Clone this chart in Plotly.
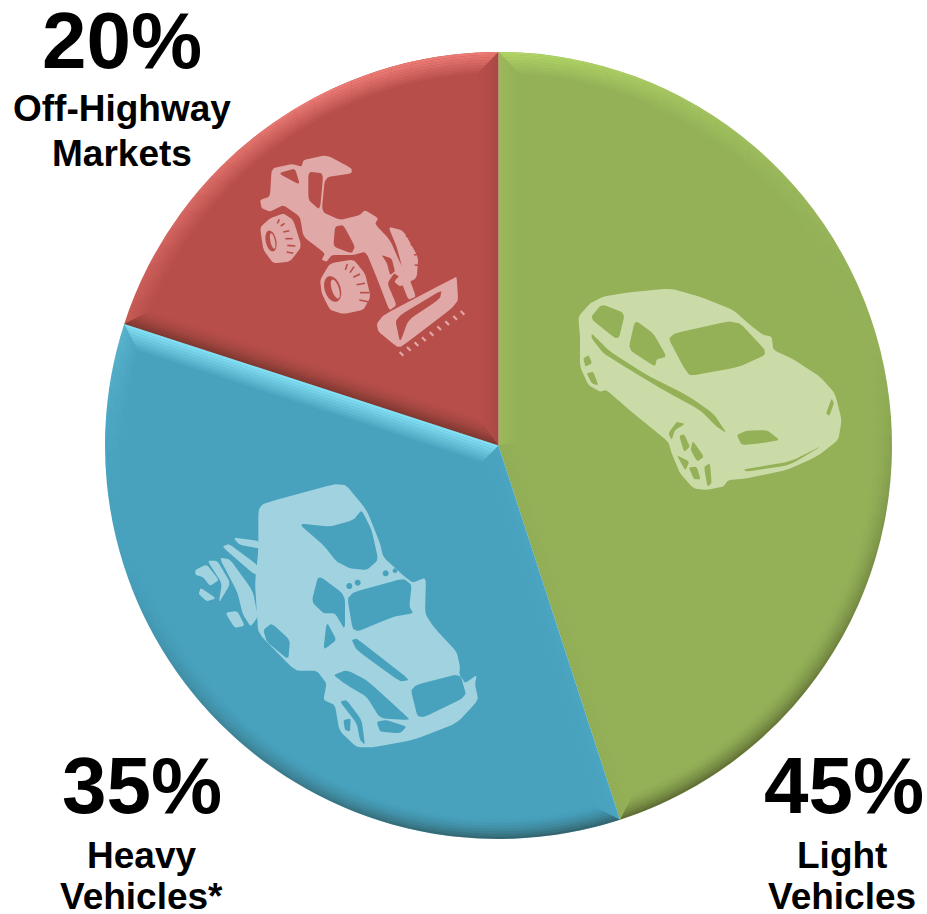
import math
import plotly.graph_objects as go

W, H = 927, 914
CX, CY, R = 498.5, 445.5, 393.5

segments = ["Light Vehicles", "Heavy Vehicles*", "Off-Highway Markets"]
shares = [45, 35, 20]
slice_colors = ["#94B158", "#48A2BE", "#B74E4A"]
slice_lights = ["178,214,102", "140,232,250", "235,122,116"]
icon_colors = ["#CBDBA8", "#A1D2E0", "#E0A8A6"]
share_labels = ["45%", "35%", "20%"]
name_lines = [["Light", "Vehicles"], ["Heavy", "Vehicles*"], ["Off-Highway", "Markets"]]


def px(x, y):
    return f"{x / W:.5f},{1 - y / H:.5f}"


def poly(points, ox=0.0, oy=0.0, scale=1.0):
    mapped = [px(ox + p[0] / scale, oy + p[1] / scale) for p in points]
    return "M" + " L".join(mapped) + " Z"


def ellipse(cx, cy, rx, ry, rot=0.0, n=28):
    c, s = math.cos(math.radians(rot)), math.sin(math.radians(rot))
    pts = []
    for i in range(n):
        a = 2 * math.pi * i / n
        x, y = rx * math.cos(a), ry * math.sin(a)
        pts.append((cx + x * c - y * s, cy + x * s + y * c))
    return pts


def smooth(points, rounds=2, cut=0.12):
    """Light corner cutting, so the silhouettes keep their shape but lose hard facets."""
    for _ in range(rounds):
        out = []
        for i, p in enumerate(points):
            q = points[(i + 1) % len(points)]
            out.append(((1 - cut) * p[0] + cut * q[0], (1 - cut) * p[1] + cut * q[1]))
            out.append((cut * p[0] + (1 - cut) * q[0], cut * p[1] + (1 - cut) * q[1]))
        points = out
    return points


def icon_shape(parts, ox, oy, color):
    path = " ".join(poly(smooth(p), ox, oy, 3.0) for p in parts)
    return dict(type="path", xref="paper", yref="paper", path=path,
                fillcolor=color, line=dict(width=0), layer="above")


def notch_shapes(strokes, ox, oy, color, width=1.6):
    out = []
    for (x0, y0), (x1, y1) in strokes:
        path = "M" + px(ox + x0 / 3, oy + y0 / 3) + " L" + px(ox + x1 / 3, oy + y1 / 3)
        out.append(dict(type="path", xref="paper", yref="paper", path=path,
                        line=dict(color=color, width=width), layer="above"))
    return out


# Car silhouette; the later sub-paths punch windows and trim through the body.
car = [
    [(55, 140), (90, 100), (130, 80), (200, 68), (330, 55), (420, 80), (520, 120), (570, 165), (610, 195),
     (635, 200), (640, 240), (700, 268), (780, 320), (825, 370), (845, 450), (835, 510), (770, 560), (680, 600),
     (560, 625), (505, 630), (490, 650), (440, 660), (400, 655), (360, 610), (335, 550), (325, 515), (220, 430),
     (140, 360), (120, 365), (85, 345), (60, 290), (60, 200)],
    [(90, 145), (125, 102), (195, 130), (175, 212)],
    [(225, 150), (280, 190), (320, 260), (290, 268), (285, 290), (205, 238)],
    [(320, 195), (530, 148), (625, 250), (540, 290), (390, 318), (370, 290)],
    [(95, 190), (150, 245), (260, 315), (380, 375), (460, 430), (500, 490), (470, 470), (420, 420), (310, 360),
     (210, 300), (130, 250), (95, 205)],
    [(815, 385), (822, 400), (808, 438), (798, 430)],
    [(530, 495), (560, 482), (620, 480), (660, 510), (600, 520), (545, 525)],
    [(550, 598), (690, 575), (790, 525), (690, 585), (560, 605)],
    [(325, 490), (350, 455), (375, 462), (345, 480), (335, 510)],
    [(358, 498), (372, 492), (390, 530), (372, 546)],
    [(398, 512), (432, 560), (412, 575), (392, 540)],
    [(350, 555), (388, 575), (376, 602)],
    [(386, 592), (410, 590), (422, 628), (402, 628)],
    [(432, 590), (450, 580), (455, 640), (442, 650)],
    [(70, 265), (86, 255), (96, 280), (76, 290)],
    [(80, 310), (100, 305), (115, 346), (96, 341)],
]

# Truck cab with hood and wings.
truck = [
    [(235, 120), (250, 100), (490, 35), (560, 120), (600, 220), (610, 262), (672, 318), (698, 338), (738, 322),
     (735, 430), (760, 470), (830, 545), (840, 590), (838, 612), (855, 640), (890, 615), (885, 642), (895, 690),
     (830, 760), (700, 810), (580, 832), (530, 832), (478, 782), (465, 705), (430, 690), (440, 640), (410, 602),
     (345, 602), (235, 490), (230, 420), (225, 340), (235, 240)],
    [(355, 160), (450, 170), (520, 150), (545, 120), (575, 180), (595, 270), (560, 300), (510, 295), (470, 275),
     (430, 225)],
    [(415, 315), (495, 375), (495, 480), (465, 430), (430, 430), (395, 395)],
    [(440, 455), (470, 510), (430, 540)],
    [(250, 480), (275, 460), (330, 510), (325, 570), (260, 515)],
    [(500, 372), (670, 325), (695, 345), (688, 410), (700, 430), (640, 440), (520, 490)],
    [(515, 510), (530, 505), (690, 630), (660, 635), (530, 540)],
    [(690, 650), (840, 610), (860, 680), (715, 750)],
    [(460, 615), (500, 600), (560, 630), (670, 730), (690, 750), (600, 745), (560, 680), (500, 645)],
    [(590, 755), (620, 750), (680, 770), (660, 790), (600, 785)],
    ellipse(508, 348, 9, 9), ellipse(533, 338, 9, 9), ellipse(617, 310, 9, 9), ellipse(645, 302, 7, 7),
    [(480, 695), (500, 690), (545, 750), (555, 825), (540, 810), (530, 760)],
    [(490, 750), (512, 745), (510, 785), (495, 780)],
]
# Rear axle fragments sit behind the cab as separate islands.
truck_axles = [
    [(160, 203), (238, 213), (238, 236), (178, 224)],
    [(126, 230), (148, 222), (236, 288), (228, 318)],
    [(118, 263), (150, 268), (218, 362), (234, 440), (212, 470), (188, 432), (172, 366)],
    [(82, 272), (112, 272), (152, 340), (116, 400), (126, 340)],
    [(46, 300), (80, 283), (117, 330), (90, 348), (70, 322), (46, 314)],
    [(62, 353), (108, 385), (80, 394), (56, 372)],
    [(136, 428), (172, 423), (194, 467), (164, 474)],
]

# Wheel loader: cab and lift arm, then each tyre, then the bucket.
loader_body = [
    [(95, 85), (155, 72), (185, 80), (190, 60), (260, 45), (335, 85), (335, 100), (255, 112), (245, 215), (300, 240),
     (358, 226), (375, 210), (415, 235), (405, 252), (450, 300), (480, 368), (505, 408), (528, 470), (505, 480),
     (478, 410), (462, 400), (442, 430), (470, 495), (448, 512), (415, 425), (378, 335), (340, 345), (275, 345),
     (260, 365), (245, 360), (255, 340), (190, 290), (180, 230), (130, 195), (90, 215), (65, 205), (60, 180), (90, 170)],
    [(115, 100), (165, 85), (180, 135)],
    [(205, 95), (250, 100), (240, 210), (205, 180)],
    [(285, 260), (310, 255), (345, 320), (335, 340), (280, 320)],
    [(425, 345), (455, 355), (465, 395), (450, 405), (441, 370)],
]
loader_rear_tyre = [[(60, 262), (90, 235), (130, 220), (160, 240), (185, 320), (150, 365), (100, 370), (70, 330)],
                    ellipse(93, 303, 16, 32, -12, 20), ellipse(98, 303, 7, 24, -12, 14)]
loader_front_tyre = [[(240, 420), (270, 370), (340, 358), (375, 400), (392, 470), (370, 510), (310, 522), (270, 510),
                      (245, 460)],
                     ellipse(278, 447, 24, 40, -18, 20), ellipse(286, 447, 11, 30, -18, 14)]
loader_far_tyre = [[(445, 260), (490, 272), (535, 352), (530, 415), (480, 440), (462, 425), (490, 395), (470, 320)]]
loader_bucket = [
    [(410, 552), (430, 525), (640, 415), (650, 410), (655, 490), (485, 620), (470, 620), (415, 575)],
    [(465, 535), (605, 450), (600, 476), (505, 540), (480, 608)],
]
loader_teeth = [(485, 642), (507, 627), (530, 613), (552, 598), (575, 582), (598, 565), (622, 550), (646, 534), (668, 519)]
rear_tread = [((118, 238), (112, 250)), ((134, 250), (122, 258)), ((148, 272), (130, 276)), ((158, 296), (136, 296)),
              ((166, 318), (142, 316)), ((160, 340), (140, 336))]
front_tread = [((322, 372), (316, 390)), ((342, 380), (330, 398)), ((360, 402), (340, 412)), ((375, 430), (350, 434)),
               ((388, 458), (360, 458)), ((384, 485), (358, 480))]
far_tread = [((498, 290), (508, 284)), ((512, 315), (525, 310)), ((522, 345), (538, 342)), ((524, 375), (538, 376))]

shapes = []


def tint(idx, nx, ny, strip, strips, power):
    """Colour of a bevel strip on wedge idx whose outward normal is (nx, ny) in page pixels."""
    d = nx * -0.25 + ny * -0.97
    fade = 1 - strip / strips
    if d > 0:
        return f"rgba({slice_lights[idx]},{min(1.0, 1.05 * d ** power * fade):.3f})"
    return f"rgba(25,20,5,{0.42 * abs(d) ** 1.2 * fade ** 1.8:.3f})"


def add_quad(pts, color):
    shapes.append(dict(type="path", xref="paper", yref="paper", path=poly(pts), fillcolor=color,
                       line=dict(width=0), layer="above"))


def point(angle, radius):
    return CX + radius * math.sin(angle), CY - radius * math.cos(angle)


# Soft bevel along each wedge: strips fade inward from the arc and both cut edges.
STRIPS, STEP = 8, 2.6
start = 0.0
total = sum(shares)
for idx, share in enumerate(shares):
    a0 = start
    a1 = start + 2 * math.pi * share / total
    half = (a1 - a0) / 2
    for k in range(STRIPS):
        o0, o1 = k * STEP, (k + 1) * STEP
        r0, r1 = R - o0, R - o1
        b0, b1 = a0 + o0 / r0, a1 - o0 / r0
        c0, c1 = a0 + o1 / r1, a1 - o1 / r1
        n = max(2, int((a1 - a0) / math.radians(3)))
        for i in range(n):
            t0, t1 = i / n, (i + 1) / n
            mid = a0 + (a1 - a0) * (t0 + t1) / 2
            add_quad([point(b0 + (b1 - b0) * t0, r0), point(b0 + (b1 - b0) * t1, r0),
                      point(c0 + (c1 - c0) * t1, r1), point(c0 + (c1 - c0) * t0, r1)],
                     tint(idx, math.sin(mid), -math.cos(mid), k, STRIPS, 2.2))
        # The two straight edges, mitred against the arc and against each other.
        for angle, side in ((a0, 1), (a1, -1)):
            ux, uy = math.sin(angle), -math.cos(angle)
            vx, vy = side * math.cos(angle), side * math.sin(angle)
            tan_half = math.tan(min(half, math.radians(85)))
            s0, s1 = o0 / tan_half, o1 / tan_half
            e0, e1 = R - o0, R - o1
            if half > math.radians(85):
                s0, s1 = 0.0, 0.0
            corners = [(CX + ux * s0 + vx * o0, CY + uy * s0 + vy * o0),
                       (CX + ux * e0 + vx * o0, CY + uy * e0 + vy * o0),
                       (CX + ux * e1 + vx * o1, CY + uy * e1 + vy * o1),
                       (CX + ux * s1 + vx * o1, CY + uy * s1 + vy * o1)]
            add_quad(corners, tint(idx, -vx, -vy, k, STRIPS, 1.1))
    start = a1

shapes.append(icon_shape(car, 560, 270, icon_colors[0]))
shapes.append(icon_shape(truck, 180, 470, icon_colors[1]))
shapes.append(icon_shape(truck_axles, 180, 470, icon_colors[1]))
for part in (loader_far_tyre, loader_rear_tyre, loader_front_tyre, loader_body, loader_bucket):
    shapes.append(icon_shape(part, 240, 140, icon_colors[2]))
shapes.extend(notch_shapes(rear_tread + front_tread + far_tread, 240, 140, slice_colors[2]))
shapes.extend(notch_shapes([((x - 6, y - 6), (x + 5, y + 5)) for x, y in loader_teeth], 240, 140, icon_colors[2], 2.2))

fig = go.Figure(go.Pie(
    labels=segments, values=shares, sort=False, direction="clockwise", rotation=0,
    marker=dict(colors=slice_colors, line=dict(width=0)),
    textinfo="none", hoverinfo="label+percent", showlegend=False,
    domain=dict(x=[(CX - R) / W, (CX + R) / W], y=[1 - (CY + R) / H, 1 - (CY - R) / H]),
))

FONT = "Liberation Sans"
share_pos = [(844, 785), (142, 785), (122, 41)]
name_pos = [(842, [855, 896]), (141, [855, 896]), (122, [108, 153])]
annotations = []
for label, (x, y) in zip(share_labels, share_pos):
    annotations.append(dict(text=f"<b>{label}</b>", x=x / W, y=1 - y / H, xref="paper", yref="paper",
                            showarrow=False, xanchor="center", yanchor="middle",
                            font=dict(family=FONT, size=80, color="#000000")))
for lines, (x, ys) in zip(name_lines, name_pos):
    for line, y in zip(lines, ys):
        annotations.append(dict(text=f"<b>{line}</b>", x=x / W, y=1 - y / H, xref="paper", yref="paper",
                                showarrow=False, xanchor="center", yanchor="middle",
                                font=dict(family=FONT, size=37, color="#000000")))

fig.update_layout(width=W, height=H, margin=dict(l=0, r=0, t=0, b=0), paper_bgcolor="#FFFFFF",
                  showlegend=False, shapes=shapes, annotations=annotations)
fig.write_html("out.html")
